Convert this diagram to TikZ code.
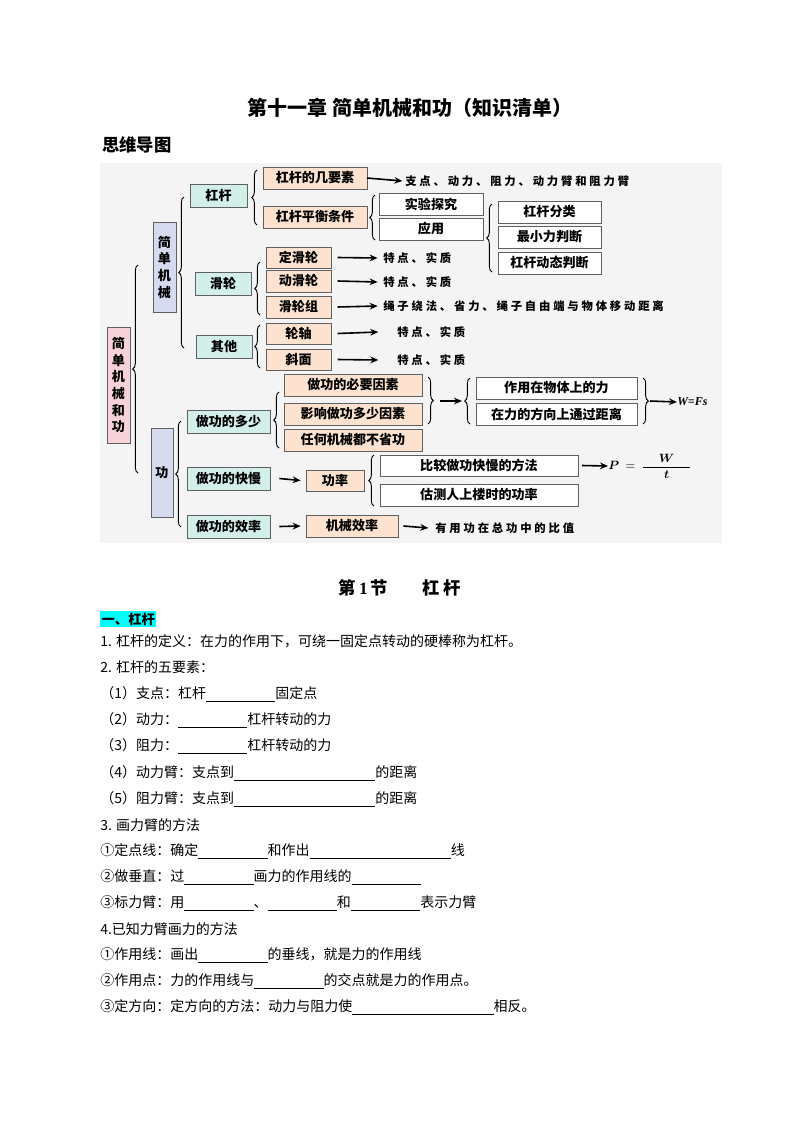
\documentclass[tikz,border=0pt]{standalone}
\usepackage{amsmath,bm}
\usepackage{fontspec}
\setmainfont{Liberation Serif}
\newfontfamily\cjk{Noto Sans CJK SC}
\newfontfamily\cjksp[LetterSpace=25]{Noto Sans CJK SC}
\usetikzlibrary{arrows.meta,decorations.pathreplacing}
\definecolor{cyb}{HTML}{D3EFEA}
\definecolor{pcb}{HTML}{FCE2CF}
\definecolor{lvb}{HTML}{D6DAEE}
\definecolor{pkb}{HTML}{F7D3D9}
\definecolor{bdr}{HTML}{606060}
\definecolor{hl}{HTML}{00FFFF}
\newcommand\bx[7]{\node[#2, minimum width={(#5-#3)*0.75pt}, minimum height={(#6-#4)*0.75pt}] (#1) at ({(#3+#5)/2},{(#4+#6)/2}) {#7};}
\newcommand\blank[1]{\rule[-2pt]{#1}{0.4pt}}
\newcommand\bs{\blank{52pt}}
\newcommand\bl{\blank{106pt}}
\tikzset{
 bxbase/.style={draw=bdr, line width=0.6pt, inner sep=0pt, outer sep=0pt, font=\cjk\bfseries\fontsize{9.8pt}{11pt}\selectfont, align=center},
 cybox/.style={bxbase, fill=cyb},
 pcbox/.style={bxbase, fill=pcb},
 lvbox/.style={bxbase, fill=lvb, font=\cjk\bfseries\fontsize{9.8pt}{12.5pt}\selectfont},
 pkbox/.style={bxbase, fill=pkb, font=\cjk\bfseries\fontsize{9.8pt}{12.5pt}\selectfont},
 whbox/.style={bxbase, fill=white},
 side/.style={anchor=west, inner sep=0pt, font=\cjksp\bfseries\fontsize{8.5pt}{9pt}\selectfont},
 arr/.style={-{Stealth[length=6pt,width=5pt]}, line width=1.2pt},
 brl/.style={decorate, decoration={brace, amplitude=4pt}, line width=0.7pt},
 body/.style={anchor=west, inner sep=0pt, font=\cjk\fontsize{10.5pt}{12pt}\selectfont},
}
\begin{document}
\begin{tikzpicture}[x=0.75pt,y=-0.75pt]
\useasboundingbox (0,0) rectangle (800,1132);
\fill[white] (0,0) rectangle (800,1132);
\node[inner sep=0pt, font=\cjk\bfseries\fontsize{15pt}{18pt}\selectfont] (title) at (410,108) {第十一章\ 简单机械和功（知识清单）};
\node[anchor=west, inner sep=0pt, font=\cjk\bfseries\fontsize{13pt}{15pt}\selectfont] (swdt) at (102,145) {思维导图};
\fill[gray!9] (100,163) rectangle (722,543);
% vertical boxes
\bx{root}{pkbox}{107}{327}{130}{443}{简\\单\\机\\械\\和\\功}
\bx{jdjx}{lvbox}{153}{222}{176}{312}{简\\单\\机\\械}
\bx{gong}{lvbox}{151}{428}{173}{517}{功}
% cyan
\bx{gg}{cybox}{190}{184}{247}{207}{杠杆}
\bx{hl}{cybox}{195}{272}{251}{295}{滑轮}
\bx{qt}{cybox}{196}{335}{252}{358}{其他}
\bx{zgds}{cybox}{187}{410}{270}{433}{做功的多少}
\bx{zgkm}{cybox}{187}{467}{270}{490}{做功的快慢}
\bx{zgxl}{cybox}{187}{515}{270}{538}{做功的效率}
% peach
\bx{jys}{pcbox}{263}{167}{367}{189}{杠杆的几要素}
\bx{phtj}{pcbox}{263}{206}{367}{228}{杠杆平衡条件}
\bx{dhl}{pcbox}{266}{247}{331}{268}{定滑轮}
\bx{dnhl}{pcbox}{266}{270}{331}{292}{动滑轮}
\bx{hlz}{pcbox}{266}{296}{331}{318}{滑轮组}
\bx{lz}{pcbox}{266}{323}{331}{344}{轮轴}
\bx{xm}{pcbox}{266}{349}{331}{370}{斜面}
\bx{byys}{pcbox}{284}{374}{422}{396}{做功的必要因素}
\bx{yxys}{pcbox}{284}{403}{422}{425}{影响做功多少因素}
\bx{bsg}{pcbox}{284}{429}{422}{451}{任何机械都不省功}
\bx{gl}{pcbox}{306}{470}{364}{491}{功率}
\bx{jxxl}{pcbox}{306}{515}{398}{537}{机械效率}
% white
\bx{sytj}{whbox}{379}{193}{483}{215}{实验探究}
\bx{yy}{whbox}{379}{218}{483}{240}{应用}
\bx{fl}{whbox}{498}{201}{601}{223}{杠杆分类}
\bx{zxl}{whbox}{498}{226}{601}{248}{最小力判断}
\bx{dt}{whbox}{498}{252}{601}{274}{杠杆动态判断}
\bx{zyl}{whbox}{476}{377}{637}{399}{作用在物体上的力}
\bx{jl}{whbox}{476}{403}{637}{425}{在力的方向上通过距离}
\bx{bj}{whbox}{380}{455}{578}{476}{比较做功快慢的方法}
\bx{gc}{whbox}{380}{484}{578}{506}{估测人上楼时的功率}
% side texts
\node[side] (t1) at (405,181) {支点、动力、阻力、动力臂和阻力臂};
\node[side] (t2) at (383,258) {特点、实质};
\node[side] (t3) at (383,282) {特点、实质};
\node[side] (t4) at (383,306) {绳子绕法、省力、绳子自由端与物体移动距离};
\node[side] (t5) at (397,332) {特点、实质};
\node[side] (t6) at (397,360) {特点、实质};
\node[side] (t7) at (435,528) {有用功在总功中的比值};
\node[anchor=west, inner sep=0pt, font=\bfseries\itshape\fontsize{9pt}{10pt}\selectfont] (wfs) at (677,402) {W=Fs};
\node[anchor=west, inner sep=0pt, font=\fontsize{9pt}{10pt}\selectfont] (pwt) at (608,466) {$\bm{P}\ =\ \dfrac{\bm{W}}{\hphantom{xxx}\bm{t}\hphantom{xxx}}$};
% arrows
\draw[arr] (jys.east) -- ([xshift=-2pt]t1.west);
\draw[arr] ([xshift=5pt]dhl.east) -- ([xshift=-4pt]t2.west);
\draw[arr] ([xshift=5pt]dnhl.east) -- ([xshift=-4pt]t3.west);
\draw[arr] ([xshift=5pt]hlz.east) -- ([xshift=-4pt]t4.west);
\draw[arr] ([xshift=5pt]lz.east) -- ([xshift=-14pt]t5.west);
\draw[arr] ([xshift=5pt]xm.east) -- ([xshift=-14pt]t6.west);
\draw[arr] ([xshift=7pt]zgkm.east) -- ([xshift=-4pt]gl.west);
\draw[arr] ([xshift=7pt]zgxl.east) -- ([xshift=-4pt]jxxl.west);
\draw[arr] ([xshift=4pt]jxxl.east) -- ([xshift=-5pt]t7.west);
\draw[arr] ([xshift=3pt]bj.east) -- (pwt.west);
\coordinate (m1) at (440,401);
\coordinate (m2) at (462,401);
\draw[arr] (m1) -- (m2);
\coordinate (m3) at (650,401);
\draw[arr] (m3) -- (wfs.west);
% braces (left-facing: bottom to top)
\draw[brl] (138,473) -- (138,265);
\draw[brl] (184,348) -- (184,197);
\draw[brl] (181,527) -- (181,421);
\draw[brl] (257,225) -- (257,170);
\draw[brl] (375,240) -- (375,195);
\draw[brl] (492,272) -- (492,204);
\draw[brl] (260,315) -- (260,262);
\draw[brl] (260,368) -- (260,325);
\draw[brl] (279,448) -- (279,392);
\draw[brl] (470,424) -- (470,378);
\draw[brl] (374,506) -- (374,455);
% right-facing
\draw[brl] (428,377) -- (428,424);
\draw[brl] (643,378) -- (643,424);
% section
\node[inner sep=0pt, font=\cjk\bfseries\fontsize{13pt}{15pt}\selectfont] (sec) at (400,588) {第\,{\fontspec{Liberation Serif}1}\,节\qquad 杠\ 杆};
\node[anchor=west, inner sep=1pt, fill=hl, font=\cjk\bfseries\fontsize{10pt}{12pt}\selectfont] (h1) at (100,619) {一、杠杆};
\node[body] (l1) at (100,641) {1. 杠杆的定义：在力的作用下，可绕一固定点转动的硬棒称为杠杆。};
\node[body] (l2) at (100,667) {2. 杠杆的五要素：};
\node[body] (l3) at (100,694) {（1）支点：杠杆\bs 固定点};
\node[body] (l4) at (100,720) {（2）动力：\bs 杠杆转动的力};
\node[body] (l5) at (100,746) {（3）阻力：\bs 杠杆转动的力};
\node[body] (l6) at (100,773) {（4）动力臂：支点到\bl 的距离};
\node[body] (l7) at (100,799) {（5）阻力臂：支点到\bl 的距离};
\node[body] (l8) at (100,825) {3. 画力臂的方法};
\node[body] (l9) at (100,851) {①定点线：确定\bs 和作出\bl 线};
\node[body] (l10) at (100,877) {②做垂直：过\bs 画力的作用线的\bs};
\node[body] (l11) at (100,903) {③标力臂：用\bs 、\bs 和\bs 表示力臂};
\node[body] (l12) at (100,929) {4.已知力臂画力的方法};
\node[body] (l13) at (100,955) {①作用线：画出\bs 的垂线，就是力的作用线};
\node[body] (l14) at (100,981) {②作用点：力的作用线与\bs 的交点就是力的作用点。};
\node[body] (l15) at (100,1007) {③定方向：定方向的方法：动力与阻力使\bl 相反。};
\end{tikzpicture}
\end{document}
